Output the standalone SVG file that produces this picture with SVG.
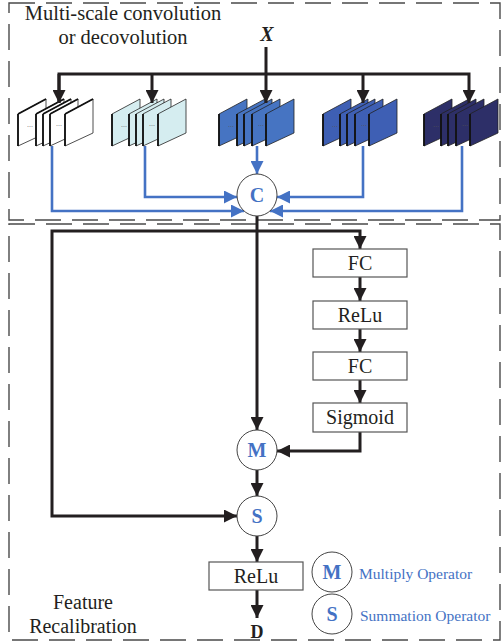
<svg xmlns="http://www.w3.org/2000/svg" width="503" height="644" viewBox="0 0 503 644">
<defs>
<marker id="ab" markerUnits="userSpaceOnUse" markerWidth="14" markerHeight="13" refX="13" refY="6.5" orient="auto"><path d="M0,0 L13,6.5 L0,13 z" fill="#231f20"/></marker>
<marker id="abl" markerUnits="userSpaceOnUse" markerWidth="14" markerHeight="13" refX="13" refY="6.5" orient="auto"><path d="M0,0 L13,6.5 L0,13 z" fill="#4472c4"/></marker>
</defs>
<style>
.dash{fill:none;stroke:#4a4a4a;stroke-width:1.4;stroke-dasharray:26 11}
.bl{fill:none;stroke:#231f20;stroke-width:3}
.bu{fill:none;stroke:#4472c4;stroke-width:2.6}
.box{fill:#fff;stroke:#555;stroke-width:1.2}
.circ{fill:#fff;stroke:#444;stroke-width:1}
.t{font-family:"Liberation Serif",serif;fill:#231f20}
.op{font-family:"Liberation Serif",serif;fill:#4472c4;font-weight:bold;font-size:20px;text-anchor:middle}
.lg{font-family:"Liberation Serif",serif;fill:#4472c4;font-size:15.5px}
.sh{stroke:#222;stroke-width:0.8}
.edge{stroke:#111;stroke-width:1.8}
.dots{font-family:"Liberation Sans",sans-serif;font-size:7px;fill:#555}
</style>
<rect class="dash" x="9" y="3" width="491" height="217"/>
<rect class="dash" x="9" y="224" width="491" height="416"/>
<text class="t" x="123" y="20" font-size="20.5" text-anchor="middle">Multi-scale convolution</text>
<text class="t" x="123" y="44" font-size="20.5" text-anchor="middle">or decovolution</text>
<text class="t" x="267" y="41" font-size="20" font-style="italic" font-weight="bold" text-anchor="middle">X</text>
<text class="t" x="83" y="609" font-size="20" text-anchor="middle">Feature</text>
<text class="t" x="83" y="633" font-size="20" text-anchor="middle">Recalibration</text>

<g id="stack1">
<g fill="#ffffff">
<polygon class="sh" points="18,114 46,99 46,133 18,146" stroke="#bbb"/><line class="edge" x1="18" y1="114" x2="18" y2="146"/><line class="edge" x1="18" y1="114" x2="46" y2="99"/>
<polygon class="sh" points="36,114 64,99 64,133 36,146"/><line class="edge" x1="36" y1="114" x2="36" y2="146"/><line class="edge" x1="36" y1="114" x2="64" y2="99"/>
<polygon class="sh" points="43,114 71,99 71,133 43,146"/><line class="edge" x1="43" y1="114" x2="43" y2="146"/><line class="edge" x1="43" y1="114" x2="71" y2="99"/>
<polygon class="sh" points="50,114 78,99 78,133 50,146"/><line class="edge" x1="50" y1="114" x2="50" y2="146"/><line class="edge" x1="50" y1="114" x2="78" y2="99"/>
<polygon class="sh" points="65,114 93,99 93,133 65,146" stroke="#ccc"/><line class="edge" x1="65" y1="114" x2="65" y2="146"/><line class="edge" x1="65" y1="114" x2="93" y2="99"/>
</g>
<text class="dots" x="27" y="127">...</text><text class="dots" x="56" y="126">...</text>
</g>
<g id="stack2">
<g fill="#d5edf0">
<polygon class="sh" points="112,114 140,99 140,133 112,146"/><line class="edge" x1="112" y1="114" x2="112" y2="146"/>
<polygon class="sh" points="129,114 157,99 157,133 129,146"/><line class="edge" x1="129" y1="114" x2="129" y2="146"/>
<polygon class="sh" points="136,114 164,99 164,133 136,146"/><line class="edge" x1="136" y1="114" x2="136" y2="146"/>
<polygon class="sh" points="143,114 171,99 171,133 143,146"/><line class="edge" x1="143" y1="114" x2="143" y2="146"/>
<polygon class="sh" points="158,114 186,99 186,133 158,146"/><line class="edge" x1="158" y1="114" x2="158" y2="146"/>
</g>
<text class="dots" x="121" y="127">...</text><text class="dots" x="149" y="126">...</text>
</g>
<g id="stack3">
<g fill="#4674c2">
<polygon class="sh" points="219,114 247,99 247,133 219,146"/><line class="edge" x1="219" y1="114" x2="219" y2="146"/>
<polygon class="sh" points="237,114 265,99 265,133 237,146"/><line class="edge" x1="237" y1="114" x2="237" y2="146"/>
<polygon class="sh" points="244,114 272,99 272,133 244,146"/><line class="edge" x1="244" y1="114" x2="244" y2="146"/>
<polygon class="sh" points="252,114 280,99 280,133 252,146"/><line class="edge" x1="252" y1="114" x2="252" y2="146"/>
<polygon class="sh" points="266,114 294,99 294,133 266,146"/><line class="edge" x1="266" y1="114" x2="266" y2="146"/>
</g>
<text class="dots" x="228" y="127" fill="#223">...</text><text class="dots" x="258" y="126" fill="#223">...</text>
</g>
<g id="stack4">
<g fill="#3e5fb4">
<polygon class="sh" points="323,114 351,99 351,133 323,146"/><line class="edge" x1="323" y1="114" x2="323" y2="146"/>
<polygon class="sh" points="340,114 368,99 368,133 340,146"/><line class="edge" x1="340" y1="114" x2="340" y2="146"/>
<polygon class="sh" points="347,114 375,99 375,133 347,146"/><line class="edge" x1="347" y1="114" x2="347" y2="146"/>
<polygon class="sh" points="355,114 383,99 383,133 355,146"/><line class="edge" x1="355" y1="114" x2="355" y2="146"/>
<polygon class="sh" points="369,114 397,99 397,133 369,146"/><line class="edge" x1="369" y1="114" x2="369" y2="146"/>
</g>
<text class="dots" x="332" y="127" fill="#223">...</text><text class="dots" x="361" y="126" fill="#223">...</text>
</g>
<g id="stack5">
<g fill="#2d2f68">
<polygon class="sh" points="424,114 452,99 452,133 424,146"/><line class="edge" x1="424" y1="114" x2="424" y2="146"/>
<polygon class="sh" points="441,114 469,99 469,133 441,146"/><line class="edge" x1="441" y1="114" x2="441" y2="146"/>
<polygon class="sh" points="448,114 476,99 476,133 448,146"/><line class="edge" x1="448" y1="114" x2="448" y2="146"/>
<polygon class="sh" points="456,114 484,99 484,133 456,146"/><line class="edge" x1="456" y1="114" x2="456" y2="146"/>
<polygon class="sh" points="470,114 498,99 498,133 470,146"/><line class="edge" x1="470" y1="114" x2="470" y2="146"/>
</g>
<text class="dots" x="433" y="127" fill="#556">...</text><text class="dots" x="462" y="126" fill="#556">...</text>
</g>

<g id="connectors">
<path class="bl" d="M266,47 V103" marker-end="url(#ab)"/>
<path class="bl" d="M59,103 V74 H469 V103" marker-end="url(#ab)"/>
<path class="bl" d="M59,74 V103" marker-end="url(#ab)"/>
<path class="bl" d="M152,74 V103" marker-end="url(#ab)"/>
<path class="bl" d="M363,74 V103" marker-end="url(#ab)"/>
<path class="bu" d="M52,146 V211 H244" marker-end="url(#abl)"/>
<path class="bu" d="M145,146 V197 H237" marker-end="url(#abl)"/>
<path class="bu" d="M257,146 V174" marker-end="url(#abl)"/>
<path class="bu" d="M363,146 V197 H277" marker-end="url(#abl)"/>
<path class="bu" d="M462,146 V211 H270" marker-end="url(#abl)"/>
<path class="bl" d="M257,216 V430" marker-end="url(#ab)"/>
<path class="bl" d="M257,231 H360 V249" marker-end="url(#ab)"/>
<path class="bl" d="M257,231 H52 V516 H237" marker-end="url(#ab)"/>
<path class="bl" d="M360,277 V301" marker-end="url(#ab)"/>
<path class="bl" d="M360,329 V352" marker-end="url(#ab)"/>
<path class="bl" d="M360,380 V403" marker-end="url(#ab)"/>
<path class="bl" d="M360,432 V451 H277" marker-end="url(#ab)"/>
<path class="bl" d="M257,470 V496" marker-end="url(#ab)"/>
<path class="bl" d="M257,536 V562" marker-end="url(#ab)"/>
<path class="bl" d="M257,590 V618" marker-end="url(#ab)"/>
</g>

<g id="concat"><ellipse class="circ" cx="257" cy="195" rx="20" ry="21"/><text class="op" x="257" y="202">C</text></g>
<g id="fc1"><rect class="box" x="313" y="249" width="94" height="28"/><text class="t" x="360" y="270" font-size="20" text-anchor="middle">FC</text></g>
<g id="relu1"><rect class="box" x="313" y="301" width="94" height="28"/><text class="t" x="360" y="322" font-size="20" text-anchor="middle">ReLu</text></g>
<g id="fc2"><rect class="box" x="313" y="352" width="94" height="28"/><text class="t" x="360" y="373" font-size="20" text-anchor="middle">FC</text></g>
<g id="sigmoid"><rect class="box" x="313" y="403" width="94" height="29"/><text class="t" x="360" y="424" font-size="20" text-anchor="middle">Sigmoid</text></g>
<g id="multiply"><circle class="circ" cx="257" cy="450" r="20"/><text class="op" x="257" y="457">M</text></g>
<g id="sum"><circle class="circ" cx="257" cy="516" r="20"/><text class="op" x="257" y="523">S</text></g>
<g id="relu2"><rect class="box" x="209" y="562" width="94" height="28"/><text class="t" x="256" y="583" font-size="20" text-anchor="middle">ReLu</text></g>
<g id="output"><text class="t" x="257" y="638" font-size="18" font-weight="bold" text-anchor="middle">D</text></g>
<g id="legend-m"><circle class="circ" cx="332" cy="572" r="20"/><text class="op" x="332" y="579">M</text><text class="lg" x="359" y="579">Multiply Operator</text></g>
<g id="legend-s"><circle class="circ" cx="332" cy="614" r="20"/><text class="op" x="332" y="621">S</text><text class="lg" x="360" y="621">Summation Operator</text></g>
</svg>
